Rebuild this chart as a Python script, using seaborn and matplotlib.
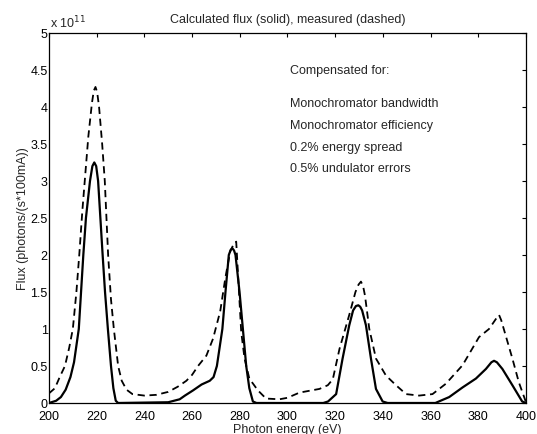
import pandas as pd
import matplotlib
matplotlib.use("Agg")
import matplotlib.pyplot as plt
from matplotlib.ticker import FormatStrFormatter, MultipleLocator
import seaborn as sns

# Calculated flux (solid), units of 1e11 photons/(s*100mA)
calc_energy = [200, 203, 205, 207, 209, 210.5, 212.5, 214.4, 215.5, 217.2, 218.2, 219,
               219.8, 220.6, 222.5, 223.5, 224.7, 226, 227, 228, 229,
               250, 254.8, 257, 260.4, 264, 267.4, 269, 270.4, 272.7, 274, 275.4,
               276.2, 276.9, 277.6, 278.2, 279.9, 281.3, 282.7, 284, 285.5, 287,
               315, 317, 320.4, 323.1, 325.9, 327.5, 328.7, 329.7, 330.5, 331.3,
               332.9, 335, 337.1, 339.9, 342,
               362, 367.8, 373.4, 379, 383.2, 385.5, 386.6, 387.8, 390.1, 394.3,
               398.4, 400]
calc_flux = [0.0, 0.03, 0.08, 0.18, 0.35, 0.55, 1.0, 2.0, 2.5, 3.0, 3.2, 3.25,
             3.2, 3.0, 2.0, 1.5, 1.0, 0.5, 0.2, 0.03, 0.0,
             0.01, 0.05, 0.1, 0.17, 0.25, 0.30, 0.35, 0.5, 1.0, 1.5, 2.0,
             2.07, 2.09, 2.06, 2.0, 1.5, 1.0, 0.5, 0.2, 0.02, 0.0,
             0.0, 0.02, 0.12, 0.6, 1.05, 1.25, 1.31, 1.32, 1.3, 1.25,
             1.05, 0.6, 0.19, 0.02, 0.0,
             0.0, 0.08, 0.21, 0.33, 0.46, 0.55, 0.57, 0.55, 0.46, 0.24,
             0.02, 0.0]

# Measured flux (dashed)
meas_energy = [200, 202.5, 204.5, 206.7, 208.5, 210, 211.5, 212.7, 214, 215,
               216.5, 218, 218.8, 219.5, 220.2, 221, 222.3, 223.4, 224.8, 226,
               227.2, 229, 230.5, 232.5, 235, 240, 245, 250, 254, 257.6, 260,
               262.5, 266, 268.8, 271.8, 274, 276, 277.5, 278.5, 279.5, 280.6,
               282, 284, 287.6, 291, 296.6, 300, 305, 313.4, 316.9, 319, 321.8,
               325.9, 328.5, 329.8, 330.8, 331.7, 332.5, 334.3, 337.1, 341.3,
               345.5, 349.7, 355.2, 360.8, 366.4, 373.4, 380.3, 384.5, 387.7,
               388.7, 389.6, 391.5, 394.3, 397, 400]
meas_flux = [0.13, 0.2, 0.35, 0.5, 0.75, 1.0, 1.5, 2.0, 2.6, 3.0,
             3.6, 4.05, 4.22, 4.27, 4.2, 4.0, 3.5, 3.0, 2.0, 1.4,
             1.0, 0.5, 0.3, 0.18, 0.12, 0.1, 0.11, 0.15, 0.22, 0.3, 0.38,
             0.5, 0.64, 0.87, 1.24, 1.7, 2.05, 2.15, 2.18, 1.6, 0.96,
             0.6, 0.33, 0.17, 0.06, 0.05, 0.07, 0.14, 0.19, 0.24, 0.32, 0.73,
             1.19, 1.5, 1.6, 1.64, 1.58, 1.45, 1.0, 0.6, 0.37,
             0.24, 0.12, 0.1, 0.12, 0.26, 0.51, 0.89, 1.0, 1.15,
             1.19, 1.12, 0.91, 0.6, 0.28, 0.01]

notes = ["Compensated for:", "Monochromator bandwidth", "Monochromator efficiency",
         "0.2% energy spread", "0.5% undulator errors"]
note_y = [4.50, 4.06, 3.76, 3.46, 3.18]

calc = pd.DataFrame({"energy": calc_energy, "flux": calc_flux})
meas = pd.DataFrame({"energy": meas_energy, "flux": meas_flux})

sns.set_theme(style="white")
plt.rcParams["font.family"] = ["Liberation Sans", "DejaVu Sans"]
plt.rcParams["font.size"] = 9

fig = plt.figure(figsize=(5.37, 4.35), dpi=100)
ax = fig.add_axes([0.0912, 0.0713, 0.8883, 0.8507])

sns.lineplot(data=calc, x="energy", y="flux", ax=ax, color="black", lw=1.6,
             sort=False, estimator=None)
sns.lineplot(data=meas, x="energy", y="flux", ax=ax, color="black", lw=1.3,
             sort=False, estimator=None, linestyle=(0, (4, 2.6)))

ax.set_xlim(200, 400)
ax.set_ylim(0, 5)
ax.xaxis.set_major_locator(MultipleLocator(20))
ax.yaxis.set_major_locator(MultipleLocator(0.5))
ax.yaxis.set_major_formatter(FormatStrFormatter("%g"))
ax.tick_params(direction="in", top=True, right=True, length=3, width=0.8,
               labelsize=9, colors="black")
ax.tick_params(axis="y", pad=1)
ax.tick_params(axis="x", pad=5)
for s in ax.spines.values():
    s.set_color("black")
    s.set_linewidth(0.9)

ax.set_title("Calculated flux (solid), measured (dashed)", fontsize=9, pad=8)
ax.set_xlabel("Photon energy (eV)", fontsize=9, labelpad=0.5)
ax.set_ylabel("Flux (photons/(s*100mA))", fontsize=9, labelpad=1)
ax.text(0.003, 1.008, r"x 10$^{11}$", transform=ax.transAxes, fontsize=9,
        va="bottom", ha="left")

for t, y in zip(notes, note_y):
    ax.text(301, y, t, fontsize=9, va="center", ha="left")

fig.savefig("out.png", dpi=100)
